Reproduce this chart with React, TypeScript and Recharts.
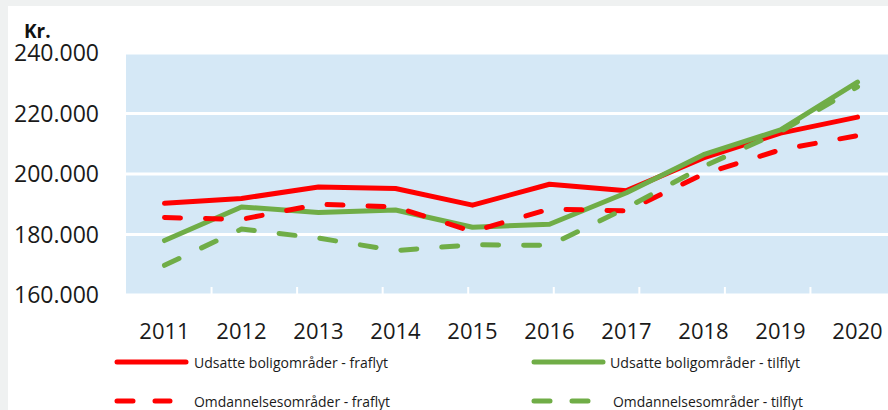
import { LineChart, Line, XAxis, YAxis, CartesianGrid } from 'recharts';

const years = ['2011', '2012', '2013', '2014', '2015', '2016', '2017', '2018', '2019', '2020'];
const udsatteFraflyt = [190300, 191900, 195700, 195200, 189700, 196600, 194500, 205300, 213500, 218800];
const udsatteTilflyt = [178000, 189100, 187300, 188100, 182400, 183400, 193800, 206400, 214600, 230400];
const omdannelseFraflyt = [185600, 185000, 190000, 189100, 181000, 188400, 187800, 200000, 208000, 212700];
const omdannelseTilflyt = [169800, 181800, 178800, 174700, 176600, 176400, 188800, 202500, 214000, 228800];
const yTicks = [160000, 180000, 200000, 220000, 240000];
const bandEdges = [1, 2, 3, 4, 5, 6, 7, 8, 9];

const RED = '#ff0000';
const GREEN = '#70ad47';
const FONT = '"Open Sans", sans-serif';

const series = [
  { key: 'uf', name: 'Udsatte boligområder - fraflyt', color: RED, dash: undefined as string | undefined, values: udsatteFraflyt },
  { key: 'ut', name: 'Udsatte boligområder - tilflyt', color: GREEN, dash: undefined as string | undefined, values: udsatteTilflyt },
  { key: 'of', name: 'Omdannelsesområder - fraflyt', color: RED, dash: '16 25', values: omdannelseFraflyt },
  { key: 'ot', name: 'Omdannelsesområder - tilflyt', color: GREEN, dash: '16 25', values: omdannelseTilflyt },
];

const data = years.map((year, i) => {
  const row: Record<string, string | number> = { year };
  series.forEach(s => { row[s.key] = s.values[i]; });
  return row;
});

const fmt = (v: number) => v.toLocaleString('da-DK');

// legend slots: [line start, line end, text start, text width, row y]
const legendPos = [
  [115, 188, 194, 194, 362],
  [532, 605, 610, 190, 362],
  [115, 172, 194, 196, 401],
  [532, 590, 613, 190, 401],
];

const App = () => {
  return (
    <div style={{ position: 'fixed', left: 0, top: 0, width: 888, height: 410, overflow: 'hidden', background: '#eff1f1' }}>
      <div style={{ position: 'absolute', left: 8, top: 6, right: 0, bottom: 0, background: '#ffffff' }} />
      <div style={{ position: 'absolute', left: 0, top: 0 }}>
        <LineChart width={910} height={345} data={data} margin={{ top: 53, right: 14, left: 0, bottom: 0 }}>
          <CartesianGrid vertical={false} stroke="#ffffff" strokeWidth={3} fill="#d5e8f6" />
          <XAxis
            dataKey="year"
            height={50}
            padding={{ left: 38.5, right: 38.5 }}
            axisLine={false}
            tickLine={false}
            tickSize={0}
            tickMargin={28}
            interval={0}
            tick={{ fontFamily: FONT, fontSize: 22, fill: '#1a1a1a' }}
          />
          <XAxis
            xAxisId="bounds"
            type="number"
            domain={[0, 10]}
            ticks={bandEdges}
            allowDataOverflow
            mirror
            axisLine={false}
            tickFormatter={() => ''}
            tickSize={8}
            tickLine={{ stroke: '#ffffff', strokeWidth: 2 }}
          />
          <YAxis
            width={126}
            domain={[160000, 240000]}
            ticks={yTicks}
            axisLine={false}
            tickLine={false}
            tickSize={0}
            tickMargin={27}
            tickFormatter={fmt}
            tick={{ fontFamily: FONT, fontSize: 23, fill: '#1a1a1a' }}
          />
          {series.map(s => (
            <Line
              key={s.key}
              dataKey={s.key}
              name={s.name}
              type="linear"
              stroke={s.color}
              strokeWidth={5}
              strokeDasharray={s.dash}
              strokeLinecap="round"
              strokeLinejoin="round"
              dot={false}
              activeDot={false}
              isAnimationActive={false}
            />
          ))}
        </LineChart>
      </div>
      <svg style={{ position: 'absolute', left: 0, top: 0 }} width={888} height={410}>
        <text x={24} y={38} fontFamily={FONT} fontWeight={700} fontSize={19} fill="#111">Kr.</text>
        {series.map((s, i) => {
          const [x1, x2, tx, tw, y] = legendPos[i];
          return (
            <g key={s.key}>
              <line x1={x1 + 2} x2={x2 - 2} y1={y} y2={y} stroke={s.color} strokeWidth={5}
                strokeLinecap="round" strokeDasharray={s.dash ? '16 22' : undefined} />
              <text x={tx} y={y + 6} fontFamily={FONT} fontSize={15} fill="#1a1a1a"
                textLength={tw} lengthAdjust="spacingAndGlyphs">{s.name}</text>
            </g>
          );
        })}
      </svg>
    </div>
  );
};

export default App;
